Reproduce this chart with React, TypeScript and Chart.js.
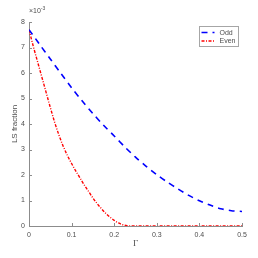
import React, { useEffect, useRef } from 'react';
import { Chart, registerables } from 'chart.js';

Chart.register(...registerables);

// Γ values and LS fraction (×10^-3)
const gammaOdd = [0, 0.025, 0.05, 0.075, 0.1, 0.125, 0.15, 0.175, 0.2, 0.225, 0.25, 0.275, 0.3, 0.325, 0.35, 0.375, 0.4, 0.425, 0.45, 0.475, 0.5];
const oddValues = [7.7, 7.12, 6.55, 5.98, 5.42, 4.9, 4.41, 3.95, 3.53, 3.1, 2.7, 2.34, 2.01, 1.72, 1.45, 1.2, 0.99, 0.82, 0.68, 0.6, 0.57];

const gammaEven = [0, 0.01, 0.02, 0.03, 0.04, 0.05, 0.06, 0.07, 0.08, 0.09, 0.1, 0.11, 0.12, 0.13, 0.14, 0.15, 0.16, 0.17, 0.18, 0.19, 0.2, 0.21, 0.22, 0.23, 0.24, 0.3, 0.4, 0.5];
const evenValues = [7.7, 7.05, 6.45, 5.85, 5.25, 4.65, 4.08, 3.58, 3.14, 2.77, 2.45, 2.15, 1.88, 1.6, 1.35, 1.1, 0.88, 0.68, 0.5, 0.35, 0.22, 0.12, 0.05, 0.01, 0, 0, 0, 0];

const xTicks = [0, 0.1, 0.2, 0.3, 0.4, 0.5];
const yTicks = [0, 1, 2, 3, 4, 5, 6, 7, 8];
const seriesLabels = ['Odd', 'Even'];
const xTitle = 'Γ';
const yTitle = 'LS fraction';
const exponentBase = '×10';
const exponentPower = '-3';

const FONT = '"Liberation Sans", Arial, Helvetica, sans-serif';
const AXIS_COLOR = '#8c8c8c';
const TEXT_COLOR = '#4d4d4d';

const decorPlugin = {
  id: 'decor',
  afterDraw(chart: any) {
    const ctx = chart.ctx;
    const xs = chart.scales.x;
    const ys = chart.scales.y;
    const area = chart.chartArea;
    ctx.save();
    // inward ticks
    ctx.strokeStyle = AXIS_COLOR;
    ctx.lineWidth = 1;
    ctx.beginPath();
    xTicks.forEach((v) => {
      const px = Math.round(xs.getPixelForValue(v)) + 0.5;
      ctx.moveTo(px, area.bottom);
      ctx.lineTo(px, area.bottom - 3);
    });
    yTicks.forEach((v) => {
      const py = Math.round(ys.getPixelForValue(v)) + 0.5;
      ctx.moveTo(area.left, py);
      ctx.lineTo(area.left + 3, py);
    });
    ctx.stroke();

    // exponent label
    ctx.fillStyle = TEXT_COLOR;
    ctx.textBaseline = 'alphabetic';
    ctx.textAlign = 'left';
    ctx.font = `7px ${FONT}`;
    const bx = area.left;
    const by = area.top - 9;
    ctx.fillText(exponentBase, bx, by);
    const w = ctx.measureText(exponentBase).width;
    ctx.font = `5px ${FONT}`;
    ctx.fillText(exponentPower, bx + w, by - 3.5);

    // legend box
    const lx = 199.5;
    const ly = 26.5;
    const lw = 39;
    const lh = 20;
    ctx.fillStyle = '#ffffff';
    ctx.fillRect(lx, ly, lw, lh);
    ctx.strokeStyle = '#a6a6a6';
    ctx.lineWidth = 1;
    ctx.strokeRect(lx, ly, lw, lh);
    chart.data.datasets.forEach((ds: any, i: number) => {
      const yy = ly + 6 + i * 8.5;
      ctx.strokeStyle = ds.borderColor;
      ctx.lineWidth = ds.borderWidth;
      ctx.setLineDash(ds.borderDash || []);
      ctx.beginPath();
      ctx.moveTo(lx + 2, yy);
      ctx.lineTo(lx + 15, yy);
      ctx.stroke();
      ctx.setLineDash([]);
      ctx.fillStyle = TEXT_COLOR;
      ctx.font = `7px ${FONT}`;
      ctx.textBaseline = 'middle';
      ctx.fillText(ds.label, lx + 20, yy + 0.5);
    });
    ctx.restore();
  },
};

export default function App() {
  const ref = useRef<HTMLCanvasElement | null>(null);
  useEffect(() => {
    document.body.style.margin = '0';
    const canvas = ref.current;
    if (!canvas) return;
    const chart = new Chart(canvas, {
      type: 'line',
      data: {
        datasets: [
          {
            label: seriesLabels[0],
            data: gammaOdd.map((x, i) => ({ x, y: oddValues[i] })),
            borderColor: '#0000ff',
            borderWidth: 1.6,
            borderDash: [6, 5],
            pointRadius: 0,
            fill: false,
            tension: 0.3,
          },
          {
            label: seriesLabels[1],
            data: gammaEven.map((x, i) => ({ x, y: evenValues[i] })),
            borderColor: '#ff0000',
            borderWidth: 1.4,
            borderDash: [3, 1.5, 1, 1.5],
            pointRadius: 0,
            fill: false,
            cubicInterpolationMode: 'monotone',
          },
        ],
      },
      options: {
        animation: false,
        responsive: false,
        devicePixelRatio: 1,
        layout: { padding: { top: 22, right: 16, left: 0, bottom: 0 } },
        plugins: {
          legend: { display: false },
          tooltip: { enabled: false },
        },
        scales: {
          x: {
            type: 'linear',
            min: 0,
            max: 0.5,
            afterFit: (s: any) => {
              s.height = 32;
            },
            afterBuildTicks: (s: any) => {
              s.ticks = xTicks.map((v) => ({ value: v }));
            },
            border: { color: AXIS_COLOR, width: 1 },
            grid: { display: true, drawOnChartArea: false, drawTicks: false },
            ticks: {
              color: TEXT_COLOR,
              font: { family: FONT, size: 7 },
              padding: 5,
              maxRotation: 0,
              callback: (v: any) => String(v),
            },
            title: {
              display: true,
              text: xTitle,
              color: TEXT_COLOR,
              font: { family: '"Liberation Serif", "Times New Roman", serif', size: 9 },
              padding: { top: 0, bottom: 9 },
            },
          },
          y: {
            type: 'linear',
            min: 0,
            max: 8,
            afterFit: (s: any) => {
              s.width = 29;
            },
            afterBuildTicks: (s: any) => {
              s.ticks = yTicks.map((v) => ({ value: v }));
            },
            border: { color: AXIS_COLOR, width: 1 },
            grid: { display: true, drawOnChartArea: false, drawTicks: false },
            ticks: {
              color: TEXT_COLOR,
              font: { family: FONT, size: 7 },
              padding: 4,
              callback: (v: any) => String(v),
            },
            title: {
              display: true,
              text: yTitle,
              color: TEXT_COLOR,
              font: { family: FONT, size: 8 },
              padding: { top: 10, bottom: 0 },
            },
          },
        },
      },
      plugins: [decorPlugin],
    } as any);
    return () => chart.destroy();
  }, []);
  return <canvas ref={ref} width={258} height={258} style={{ display: 'block' }} />;
}
